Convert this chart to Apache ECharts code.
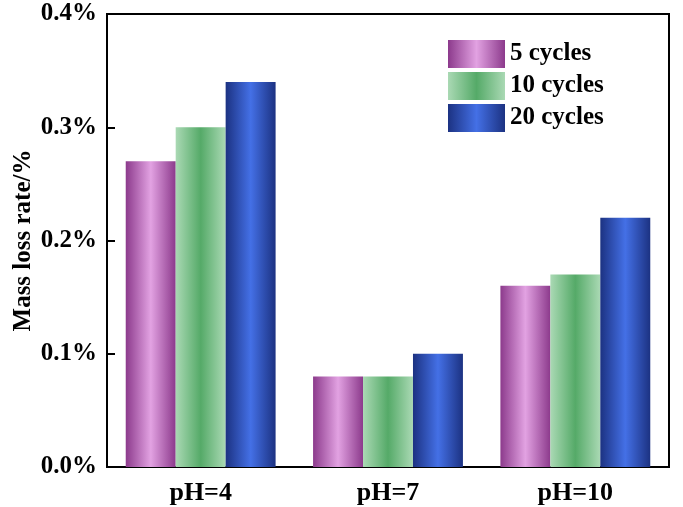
<!DOCTYPE html>
<html><head><meta charset="utf-8">
<script src="https://cdn.jsdelivr.net/npm/echarts@6/dist/echarts.min.js"></script>
<style>html,body{margin:0;padding:0;background:#fff}#c{width:683px;height:507px}</style>
</head><body><div id="c"></div>
<script>
var categories = ['pH=4', 'pH=7', 'pH=10'];
var seriesNames = ['5 cycles', '10 cycles', '20 cycles'];
var s5 = [0.27, 0.08, 0.16];
var s10 = [0.30, 0.08, 0.17];
var s20 = [0.34, 0.10, 0.22];
var yTicks = [0.0, 0.1, 0.2, 0.3, 0.4];

function grad(edge, center) {
  return new echarts.graphic.LinearGradient(0, 0, 1, 0, [
    {offset: 0, color: edge}, {offset: 0.5, color: center}, {offset: 1, color: edge}
  ]);
}
var fills = [grad('#8c3a8c', '#e2a2e2'), grad('#aad9b4', '#55aa68'), grad('#1c3282', '#4470e6')];
var font = 'Liberation Serif';
var chart = echarts.init(document.getElementById('c'));
var data = [s5, s10, s20];
chart.setOption({
  animation: false,
  grid: {left: 107, right: 14, top: 14, bottom: 40, show: true, borderColor: '#000', borderWidth: 2,
    containLabel: false, outerBoundsMode: 'none'},
  legend: {
    data: seriesNames.map(function (n) { return {name: n, icon: 'rect'}; }),
    orient: 'vertical', left: 443, top: 35,
    itemWidth: 57, itemHeight: 28, itemGap: 4,
    textStyle: {fontFamily: font, fontWeight: 'bold', fontSize: 25, color: '#000'}
  },
  xAxis: {
    type: 'category', data: categories,
    axisLine: {lineStyle: {color: '#000', width: 2}},
    axisTick: {inside: true, alignWithLabel: true, length: 8, lineStyle: {width: 2, color: '#000'}},
    axisLabel: {fontFamily: font, fontWeight: 'bold', fontSize: 26, color: '#000', margin: 13}
  },
  yAxis: {
    type: 'value', min: yTicks[0], max: yTicks[yTicks.length - 1], interval: 0.1,
    name: 'Mass loss rate/%', nameLocation: 'middle', nameGap: 71, nameMoveOverlap: false,
    nameTextStyle: {fontFamily: font, fontWeight: 'bold', fontSize: 25, color: '#000'},
    axisLine: {show: true, lineStyle: {color: '#000', width: 2}},
    axisTick: {show: true, inside: true, length: 8, lineStyle: {width: 2, color: '#000'}},
    splitLine: {show: false},
    axisLabel: {fontFamily: font, fontWeight: 'bold', fontSize: 25, color: '#000', margin: 10,
      formatter: function (v) { return v.toFixed(1) + '%'; }}
  },
  series: seriesNames.map(function (n, i) {
    return {name: n, type: 'bar', data: data[i], barGap: '0%', barCategoryGap: '20%',
      itemStyle: {color: fills[i]}};
  })
});
</script></body></html>
